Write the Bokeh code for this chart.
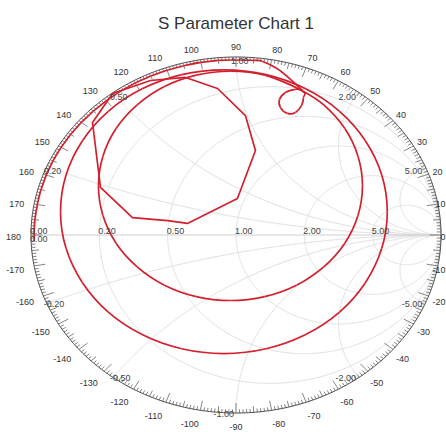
import numpy as np
from bokeh.plotting import figure
from bokeh.models import Range1d
from bokeh.embed import file_html
from bokeh.resources import INLINE
from bokeh.core.properties import value

# ---------------- data (reflection coefficient) ----------------
title_text = "S Parameter Chart 1"

edge_re = [0.324, 0.270, 0.200, 0.130, 0.086, -0.086, -0.255, -0.416, -0.565, -0.696,
           -0.807, -0.893, -0.951, -0.981, -0.984]
edge_im = [0.812, 0.870, 0.935, 0.975, 0.981, 0.981, 0.951, 0.893, 0.807, 0.696,
           0.565, 0.416, 0.255, 0.086, -0.034]

outer_re = [0.340, 0.147, -0.059, -0.265, -0.458, -0.623, -0.749, -0.829, -0.856, -0.829,
            -0.749, -0.623, -0.458, -0.265, -0.059, 0.147, 0.340, 0.505, 0.631, 0.711,
            0.738, 0.711, 0.631, 0.505, 0.340]
outer_im = [0.821, 0.901, 0.928, 0.901, 0.821, 0.695, 0.530, 0.337, 0.131, -0.075,
            -0.268, -0.433, -0.559, -0.639, -0.666, -0.639, -0.559, -0.433, -0.268, -0.075,
            0.131, 0.337, 0.530, 0.695, 0.821]

inner_re = [0.320, 0.140, -0.027, -0.194, -0.349, -0.482, -0.585, -0.649, -0.671, -0.649,
            -0.585, -0.482, -0.349, -0.194, -0.027, 0.140, 0.295, 0.428, 0.531, 0.595,
            0.617, 0.595, 0.531, 0.428, 0.320,
            0.285, 0.241, 0.212, 0.217, 0.251, 0.290, 0.320, 0.329, 0.320]
inner_im = [0.812, 0.898, 0.920, 0.898, 0.834, 0.731, 0.598, 0.443, 0.276, 0.109,
            -0.046, -0.179, -0.282, -0.346, -0.368, -0.346, -0.282, -0.179, -0.046, 0.109,
            0.276, 0.443, 0.598, 0.731, 0.812,
            0.817, 0.801, 0.761, 0.716, 0.683, 0.688, 0.728, 0.772, 0.812]

poly_re = [-0.602, -0.700, -0.661, -0.505, -0.334, -0.237, 0.007, 0.095, 0.046, -0.090,
           -0.246, -0.417, -0.602]
poly_im = [0.795, 0.632, 0.267, 0.098, 0.081, 0.065, 0.205, 0.475, 0.671, 0.823,
           0.885, 0.868, 0.795]

r_values = [0.0, 0.2, 0.5, 1.0, 2.0, 5.0]
x_values = [0.2, 0.5, 1.0, 2.0, 5.0]
angle_values = list(range(-170, 190, 10))

# ---------------- geometry of the page ----------------
W, H = 446, 432
CX, CY = 235.5, 234.5      # chart centre in canvas pixels
RX, RY = 205.0, 178.0      # unit circle radii in pixels


def dx(px):
    return px / RX


def dy(px):
    return -px / RY


p = figure(width=W, height=H, output_backend="svg", toolbar_location=None,
           x_range=Range1d(-CX / RX, (W - CX) / RX),
           y_range=Range1d(-(H - CY) / RY, CY / RY),
           x_axis_type=None, y_axis_type=None, min_border=0,
           outline_line_color=None, background_fill_color="white",
           border_fill_color="white")

FONT = value("Liberation Sans")
GRID = "#e0e0e0"

# resistance circles
t = np.linspace(0, 2 * np.pi, 721)
for r in r_values[1:]:
    p.line(r / (1 + r) + np.cos(t) / (1 + r), np.sin(t) / (1 + r),
           line_color=GRID, line_width=1)
# reactance arcs
rr = np.concatenate([[0.0], np.logspace(-3, 4, 700)])
for xv in x_values:
    for s in (1, -1):
        g = (rr + 1j * s * xv - 1) / (rr + 1j * s * xv + 1)
        p.line(g.real, g.imag, line_color=GRID, line_width=1)
# real axis
p.line([-1, 1], [0, 0], line_color="#d0d0d0", line_width=1)

# outer circle and angle ticks
p.line(np.cos(t), np.sin(t), line_color="#444444", line_width=1)
deg = np.arange(0, 360)
L = np.where(deg % 10 == 0, 0.055, np.where(deg % 5 == 0, 0.035, 0.02))
a = np.radians(deg)
p.segment(np.cos(a), np.sin(a), (1 - L) * np.cos(a), (1 - L) * np.sin(a),
          line_color="#666666", line_width=0.8)


# traces, drawn as smooth curves through the read points
def smooth(xs, ys, color):
    P = np.column_stack([xs, ys]).astype(float)
    n = len(P)
    closed = np.allclose(P[0], P[-1])
    x0, y0, x1, y1, cx0, cy0, cx1, cy1 = [], [], [], [], [], [], [], []
    for i in range(n - 1):
        if i > 0:
            pm = P[i - 1]
        else:
            pm = P[n - 2] if closed else P[0]
        if i + 2 < n:
            pp = P[i + 2]
        else:
            pp = P[1] if closed else P[n - 1]
        c0 = P[i] + (P[i + 1] - pm) / 6.0
        c1 = P[i + 1] - (pp - P[i]) / 6.0
        x0.append(P[i][0]); y0.append(P[i][1])
        x1.append(P[i + 1][0]); y1.append(P[i + 1][1])
        cx0.append(c0[0]); cy0.append(c0[1])
        cx1.append(c1[0]); cy1.append(c1[1])
    p.bezier(x0=x0, y0=y0, x1=x1, y1=y1, cx0=cx0, cy0=cy0, cx1=cx1, cy1=cy1,
             line_color=color, line_width=1.7)


RED = "#d3202f"
smooth(edge_re, edge_im, RED)
smooth(outer_re, outer_im, RED)
smooth(inner_re, inner_im, RED)
p.line(poly_re, poly_im, line_color=RED, line_width=1.7)

# resistance labels on the real axis
rl_x = [(r - 1) / (r + 1) + dx(-1) for r in r_values]
rl_y = [dy(-1)] * len(r_values)
p.text(rl_x, rl_y, text=["%.2f" % r for r in r_values], text_font=FONT,
       text_font_size="9px", text_color="#444444", text_align="left",
       text_baseline="bottom")
p.text([-1 + dx(-1)], [dy(1)], text=["0.00"], text_font=FONT, text_font_size="9px",
       text_color="#444444", text_align="left", text_baseline="top")

# reactance labels near the rim
for xv in x_values:
    for s in (1, -1):
        g = (1j * s * xv - 1) / (1j * s * xv + 1)
        if xv < 1:
            al, ox = "left", -3
        elif xv == 1:
            al, ox = ("left", -5) if s > 0 else ("right", -2)
        else:
            al, ox = "right", -3
        base = "top" if s > 0 else "middle"
        txt = ("%.2f" % xv) if s > 0 else ("-%.2f" % xv)
        p.text([g.real + dx(ox)], [g.imag + dy(1)], text=[txt], text_font=FONT,
               text_font_size="9px", text_color="#444444", text_align=al,
               text_baseline=base)

# angle labels outside the rim
ax, ay, at = [], [], []
for ang in angle_values:
    rad = np.radians(ang)
    s = str(ang)
    w = 5 * len(s.replace("-", "")) + (3 if ang < 0 else 0)
    c = np.cos(rad)
    if c < -0.05:
        px = 215 * c - w / 2
    elif c > 0.05:
        px = 209 * c + w / 2
    else:
        px = 0.0
    px = min(px, W - CX - w / 2 - 1)
    py = -2 + 190 * np.sin(rad)
    ax.append(dx(px))
    ay.append(-dy(py))
    at.append(s)
p.text(ax, ay, text=at, text_font=FONT, text_font_size="9px", text_color="#333333",
       text_align="center", text_baseline="middle")

# title
p.text([0.0], [dy(22.5 - CY)], text=[title_text], text_font=FONT, text_font_size="17px",
       text_color="#333333", text_align="center", text_baseline="middle")

open("out.html", "w").write(file_html(p, INLINE))
